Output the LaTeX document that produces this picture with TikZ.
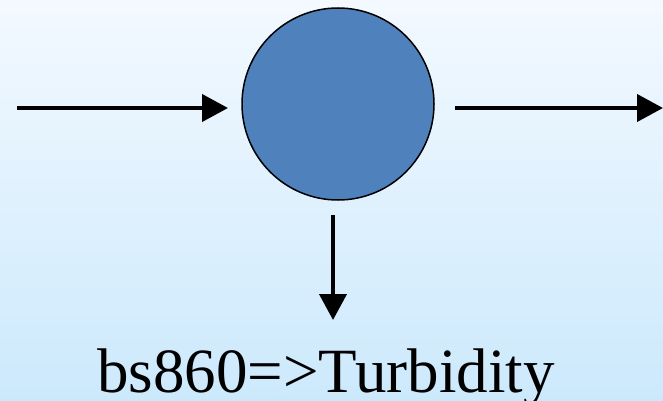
\documentclass[tikz,border=0pt]{standalone}
\usepackage{fontspec}
\setmainfont{Liberation Serif}
\usetikzlibrary{arrows.meta}
\definecolor{bgtop}{RGB}{243,249,255}
\definecolor{bgbot}{RGB}{204,233,252}
\definecolor{ballblue}{RGB}{79,129,189}
\tikzset{
  flow/.style={line width=4pt,-{Triangle[length=26pt,width=27pt]}},
}
\begin{document}
\begin{tikzpicture}[x=1pt,y=-1pt]
\shade[top color=bgtop,bottom color=bgbot] (0,0) rectangle (663,401);
\useasboundingbox (0,0) rectangle (663,401);
\node[circle,draw=black,line width=1.5pt,fill=ballblue,minimum size=192pt,inner sep=0pt] (c) at (338,104) {};
\coordinate (l0) at (17,108);
\coordinate (l1) at (228,108);
\coordinate (r0) at (455,108);
\coordinate (r1) at (663,108);
\coordinate (d0) at (333,215);
\coordinate (d1) at (333,320);
\draw[flow] (l0) -- (l1);
\draw[flow] (r0) -- (r1);
\draw[flow] (d0) -- (d1);
\node[anchor=base,font=\fontsize{63}{70}\selectfont,inner sep=0pt] (t) at (326,392) {bs860=>Turbidity};
\end{tikzpicture}
\end{document}
